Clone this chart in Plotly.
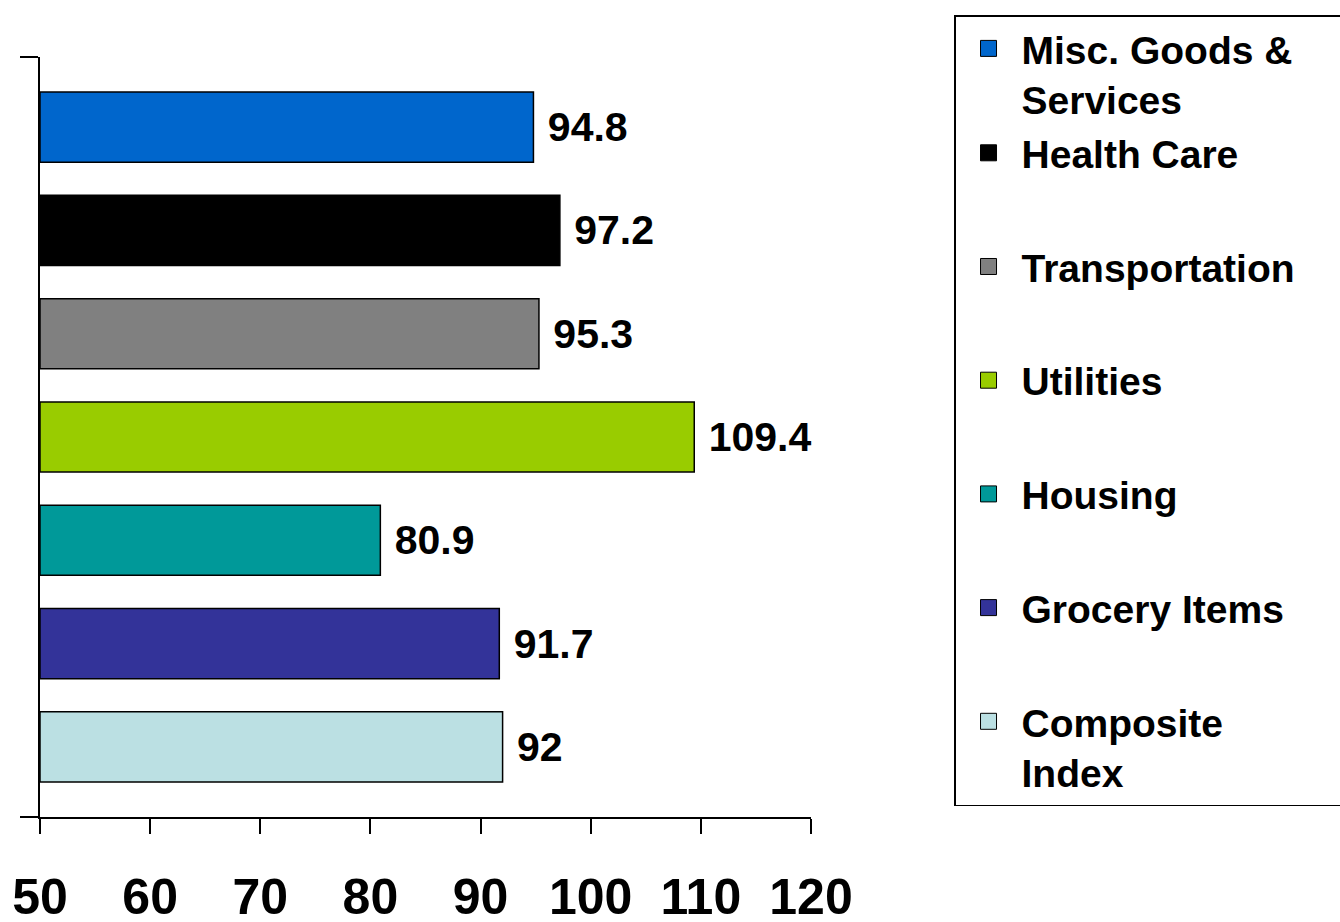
import plotly.graph_objects as go

categories = ["Misc. Goods & Services", "Health Care", "Transportation", "Utilities",
              "Housing", "Grocery Items", "Composite Index"]
legend_labels = ["Misc. Goods &<br>Services", "Health Care", "Transportation\u00a0\u00a0\u00a0\u00a0", "Utilities",
                 "Housing", "Grocery Items", "Composite<br>Index"]
values = [94.8, 97.2, 95.3, 109.4, 80.9, 91.7, 92]
value_text = ["94.8", "97.2", "95.3", "109.4", "80.9", "91.7", "92"]
colors = ["#0066CC", "#000000", "#808080", "#99CC00", "#009999", "#333399", "#BBE0E3"]
groups = ["g0", "g0", "g2", "g3", "g4", "g5", "g6"]
x_ticks = [50, 60, 70, 80, 90, 100, 110, 120]

FONT = "Liberation Sans, Arial, sans-serif"

fig = go.Figure()
for cat, val, txt, col in zip(categories, values, value_text, colors):
    fig.add_trace(go.Bar(
        x=[val - 50], base=50, y=[cat], orientation="h",
        marker=dict(color=col, line=dict(color="black", width=1.5)),
        width=0.68, text=[" " + txt], textposition="outside",
        textfont=dict(family=FONT, size=41, color="black", weight="bold"),
        constraintext="none", cliponaxis=False, showlegend=False,
        hoverinfo="skip",
    ))

for lab, col, grp in zip(legend_labels, colors, groups):
    fig.add_trace(go.Scatter(
        x=[None], y=[None], mode="markers", name=lab, legendgroup=grp,
        marker=dict(symbol="square", size=16, color=col, line=dict(color="black", width=1)),
        showlegend=True,
    ))

fig.update_layout(
    width=1340, height=922,
    margin=dict(l=40, r=529, t=57, b=105, autoexpand=False),
    paper_bgcolor="white", plot_bgcolor="white",
    barmode="overlay",
    showlegend=True,
    legend=dict(
        x=1.1855, xanchor="left", y=1.0552, yanchor="top",
        traceorder="grouped", tracegroupgap=60, valign="top",
        font=dict(family=FONT, size=39, color="black", weight="bold"),
        bordercolor="black", borderwidth=1.5, bgcolor="white",
        itemwidth=56, maxheight=900,
    ),
    xaxis=dict(
        range=[50, 120], tickmode="array", tickvals=x_ticks,
        ticktext=[str(t) for t in x_ticks],
        showline=True, linecolor="black", linewidth=1.5,
        ticks="outside", ticklen=15, tickwidth=1.5, tickcolor="black",
        showgrid=False, zeroline=False, automargin=False,
        tickfont=dict(family=FONT, size=50, color="black", weight="bold"),
        ticklabelstandoff=20,
    ),
    yaxis=dict(
        type="category", categoryorder="array", categoryarray=categories[::-1],
        range=[-0.68, 6.68], automargin=False,
        showline=True, linecolor="black", linewidth=1.5,
        ticks="outside", ticklen=18, tickwidth=1.5, tickcolor="black",
        tickmode="array", tickvals=[-0.68, 6.68], showticklabels=False,
        showgrid=False, zeroline=False,
    ),
)

fig.write_html("out.html", config={"displayModeBar": False},
               post_script="document.body.style.margin='0';")
